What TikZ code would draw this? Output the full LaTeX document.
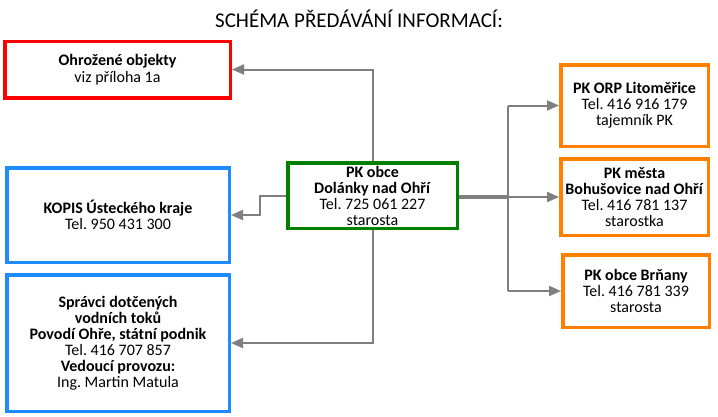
\documentclass[tikz,border=0pt]{standalone}
\usepackage{fontspec}
\setmainfont{Carlito}
\frenchspacing
\usetikzlibrary{arrows.meta}
\definecolor{cred}{HTML}{FF0000}
\definecolor{cblue}{HTML}{1E8CFF}
\definecolor{cgreen}{HTML}{008000}
\definecolor{corange}{HTML}{FF8000}
\definecolor{cgray}{HTML}{7F7F7F}
\tikzset{
  box/.style={draw, line width=3.5pt, fill=white, align=center, inner sep=0pt,
    font=\fontsize{16}{16}\selectfont},
  redbox/.style={box, draw=cred},
  bluebox/.style={box, draw=cblue},
  greenbox/.style={box, draw=cgreen},
  orangebox/.style={box, draw=corange},
  conn/.style={draw=cgray, line width=2pt, -{Triangle[length=12pt,width=10pt]}},
  thickconn/.style={draw=cgray, line width=4pt},
  busline/.style={draw=cgray, line width=2pt},
}
\begin{document}
\begin{tikzpicture}[x=1pt,y=-1pt]
\useasboundingbox[fill=white] (0,0) rectangle (718,416);
\node[font=\fontsize{21}{24}\selectfont] (title) at (359,19) {SCHÉMA PŘEDÁVÁNÍ INFORMACÍ:};
\node[redbox, minimum width=225.5pt, minimum height=56.5pt, font=\fontsize{16}{17.5}\selectfont] (red) at (117.5,69.5)
  {\textbf{Ohrožené objekty}\\viz příloha 1a};
\node[bluebox, minimum width=222.5pt, minimum height=94.5pt] (kopis) at (118,215)
  {\textbf{KOPIS Ústeckého kraje}\\Tel. 950 431 300};
\node[bluebox, minimum width=222.5pt, minimum height=136.5pt] (spravci) at (118,343)
  {\textbf{Správci dotčených}\\\textbf{vodních toků}\\\textbf{Povodí Ohře, státní podnik}\\Tel. 416 707 857\\\textbf{Vedoucí provozu:}\\Ing. Martin Matula};
\node[greenbox, minimum width=169.5pt, minimum height=65.5pt] (green) at (372.5,195.5)
  {\textbf{PK obce}\\\textbf{Dolánky nad Ohří}\\Tel. 725 061 227\\starosta};
\node[orangebox, minimum width=147.5pt, minimum height=81.5pt] (orp) at (634.5,105.5)
  {\textbf{PK ORP Litoměřice}\\Tel. 416 916 179\\tajemník PK};
\node[orangebox, minimum width=147.5pt, minimum height=76.5pt] (boh) at (634.5,197)
  {\textbf{PK města}\\\textbf{Bohušovice nad Ohří}\\Tel. 416 781 137\\starostka};
\node[orangebox, minimum width=146.5pt, minimum height=72.5pt] (brn) at (636,291)
  {\textbf{PK obce Brňany}\\Tel. 416 781 339\\starosta};
\coordinate (bus) at (508,197);
\coordinate (kink) at (260,196);
\draw[conn] (green.north) |- (red.east);
\draw[conn] (green.west |- kink) -- (kink) |- (kopis.east);
\draw[conn] (green.south) |- (spravci.east);
\draw[thickconn] (green.east |- bus) -- (bus);
\draw[busline] (bus |- orp.west) -- (bus |- brn.west);
\draw[conn] (bus |- orp.west) -- (orp.west);
\draw[conn] (bus) -- (boh.west |- bus);
\draw[conn] (bus |- brn.west) -- (brn.west);
\end{tikzpicture}
\end{document}
